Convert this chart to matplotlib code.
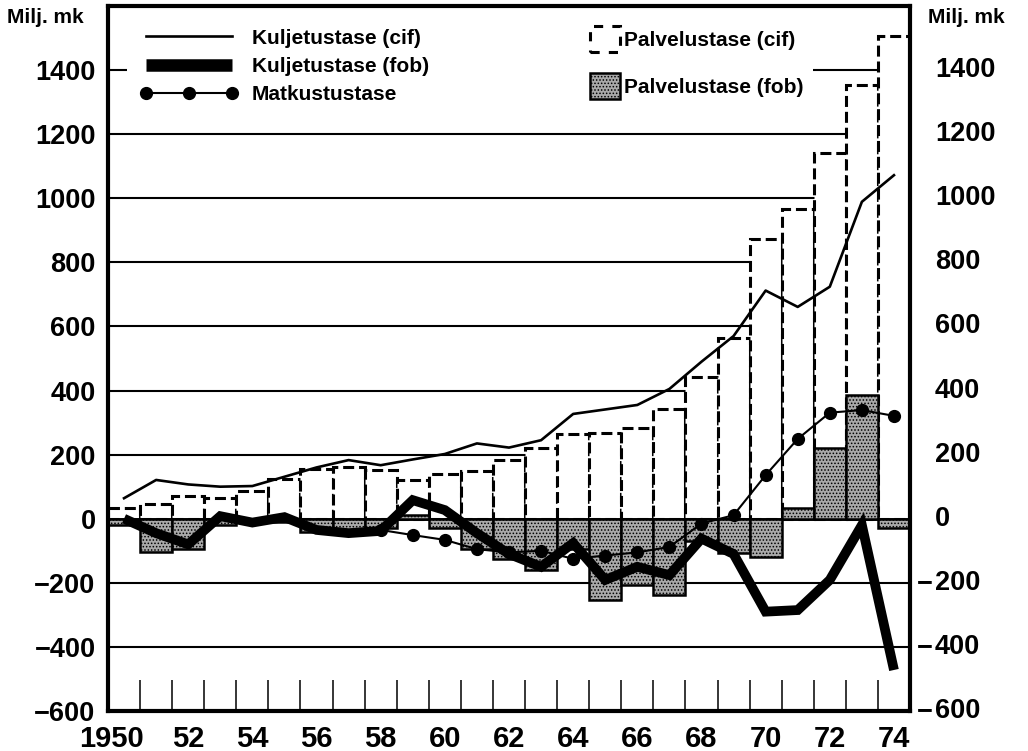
import numpy as np
import matplotlib
matplotlib.use("Agg")
import matplotlib.pyplot as plt
from matplotlib.lines import Line2D
from matplotlib.patches import Patch, Rectangle
from matplotlib import font_manager
import matplotlib.transforms as mtransforms

# ---------------- data ----------------
years = list(range(1950, 1975))
palvelu_cif = [32, 46, 71, 66, 88, 123, 154, 162, 152, 121, 139, 150, 182,
               220, 264, 267, 283, 341, 443, 563, 872, 965, 1140, 1353, 1505]
palvelu_fob = [-20, -105, -95, -20, -10, -10, -40, -40, -30, 12, -30, -95, -125,
               -160, -95, -255, -207, -238, -70, -107, -118, 34, 220, 386, -30]
kulj_cif = [64, 121, 107, 100, 102, 131, 160, 183, 167, 185, 202, 235, 222,
            245, 327, 341, 355, 405, 490, 570, 712, 661, 724, 989, 1072]
kulj_fob = [0, -45, -80, 8, -12, 5, -35, -45, -38, 58, 27, -45, -110,
            -150, -76, -191, -150, -176, -62, -110, -290, -285, -191, -20, -472]
matk_years = list(range(1958, 1975))
matk = [-35, -51, -66, -95, -105, -100, -125, -115, -105, -88, -15, 11,
        136, 249, 331, 339, 321]

ytick_vals = [-600, -400, -200, 0, 200, 400, 600, 800, 1000, 1200, 1400]
xtick_years = list(range(1952, 1975, 2))
xtick_labels = [str(y)[2:] for y in xtick_years]

# ---------------- fonts ----------------
names = {f.name for f in font_manager.fontManager.ttflist}
main_font = 'Liberation Sans' if 'Liberation Sans' in names else 'DejaVu Sans'
narrow_font = 'Liberation Sans Narrow' if 'Liberation Sans Narrow' in names else main_font
plt.rcParams['font.family'] = [main_font, 'DejaVu Sans']
plt.rcParams['hatch.linewidth'] = 0.7

GREY = '#a9a9a9'

W, H = 1028, 751
fig = plt.figure(figsize=(W / 100, H / 100), dpi=100)
fig.patch.set_facecolor('white')
L, R, T, B = 108, 910, 6, 711
ax = fig.add_axes([L / W, 1 - B / H, (R - L) / W, (B - T) / H])

ax.set_xlim(1949.5, 1974.5)
ax.set_ylim(-600, 1600)
ax.set_axisbelow(True)

# grid
ax.set_yticks(ytick_vals)
ax.yaxis.grid(True, color='black', linewidth=1.5)
ax.xaxis.grid(False)

# white area behind the legend
ax.add_patch(Rectangle((0.024, 0.84), 0.855, 0.16, transform=ax.transAxes,
                       facecolor='white', edgecolor='none', zorder=0.8))

# Palvelustase (cif): dashed white bars
ax.bar(years, palvelu_cif, width=1.0, facecolor='white', edgecolor='black',
       linewidth=2.2, linestyle=(0, (3.6, 1.6)), zorder=1)
ax.axhline(0, color='black', linewidth=2.0, zorder=1.5)

# Palvelustase (fob): stippled grey bars
ax.bar(years, palvelu_fob, width=1.0, facecolor=GREY, edgecolor='black',
       linewidth=1.8, hatch='.....', zorder=2)

# lines
ax.plot(years, kulj_cif, color='black', linewidth=1.9, zorder=3)
ax.plot(matk_years, matk, color='black', linewidth=1.5, marker='o',
        markersize=8.5, zorder=3.5)
ax.plot(years, kulj_fob, color='black', linewidth=7, solid_joinstyle='miter',
        solid_capstyle='butt', zorder=4)

# spines
for s in ax.spines.values():
    s.set_linewidth(3)
    s.set_color('black')

# y labels (left)
ax.tick_params(axis='y', which='major', length=0, pad=9, labelsize=19.5)
for lab in ax.get_yticklabels():
    lab.set_fontweight('bold')

# y labels (right), digits aligned, minus hanging
base = ax.get_yaxis_transform()
tr_dig = mtransforms.offset_copy(base, fig=fig, x=25, y=0, units='dots')
tr_min = mtransforms.offset_copy(base, fig=fig, x=23, y=0, units='dots')
for v in ytick_vals:
    ax.text(1, v, str(abs(v)), transform=tr_dig, ha='left', va='center',
            fontsize=19.5, fontweight='bold', clip_on=False)
    if v < 0:
        ax.text(1, v, '\u2212', transform=tr_min, ha='right', va='center',
                fontsize=19.5, fontweight='bold', clip_on=False)

# x ticks
ax.set_xticks(xtick_years)
ax.set_xticklabels(xtick_labels, fontsize=21, fontweight='bold', family=narrow_font)
ax.tick_params(axis='x', which='major', length=0, pad=10)
ax.set_xticks(np.arange(1950.5, 1974.0, 1.0), minor=True)
ax.tick_params(axis='x', which='minor', direction='in', length=22.5, width=1.1,
               bottom=True, top=False, color='black')
xt = mtransforms.offset_copy(ax.get_xaxis_transform(), fig=fig, x=0, y=-14, units='dots')
ax.text(1949.62, 0, '1950', transform=xt, ha='center', va='top', fontsize=21,
        fontweight='bold', family=narrow_font, clip_on=False)

# unit labels
fig.text(7 / W, 1 - 8 / H, 'Milj. mk', ha='left', va='top', fontsize=15, fontweight='bold')
fig.text(928 / W, 1 - 8 / H, 'Milj. mk', ha='left', va='top', fontsize=15, fontweight='bold')

# legends
prop = {'size': 15, 'weight': 'bold'}
h1 = [Line2D([], [], color='black', linewidth=1.9),
      Line2D([], [], color='black', linewidth=9, solid_capstyle='butt'),
      Line2D([], [], color='black', linewidth=1.5, marker='o', markersize=8.5)]
leg1 = ax.legend(h1, ['Kuljetustase (cif)', 'Kuljetustase (fob)', 'Matkustustase'],
                 loc='upper left', bbox_to_anchor=(0.040, 0.968), frameon=False,
                 borderpad=0, borderaxespad=0, handlelength=4.7, handletextpad=0.65,
                 labelspacing=0.45, numpoints=3, prop=prop)
ax.add_artist(leg1)
h2 = [Patch(facecolor='white', edgecolor='black', linewidth=2.2, linestyle=(0, (3.0, 3.0))),
      Patch(facecolor=GREY, edgecolor='black', linewidth=1.8, hatch='.....')]
leg2 = ax.legend(h2, ['Palvelustase (cif)', 'Palvelustase (fob)'],
                 loc='upper left', bbox_to_anchor=(0.601, 0.972), frameon=False,
                 borderpad=0, borderaxespad=0, handlelength=1.45, handleheight=1.55,
                 handletextpad=0.2, labelspacing=1.0, prop=prop)

fig.savefig('out.png', dpi=100, facecolor='white')
